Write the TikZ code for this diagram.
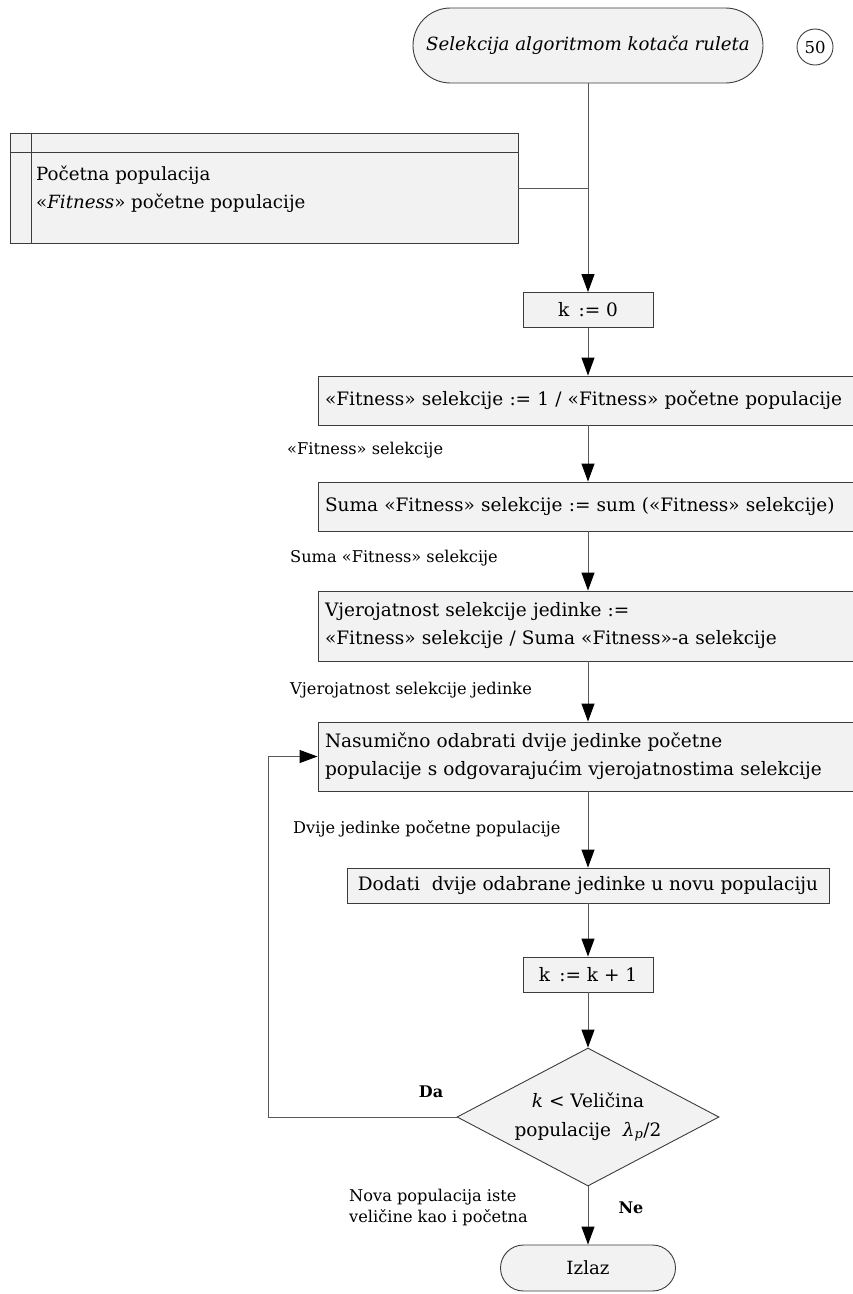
\documentclass[tikz,border=0pt]{standalone}
\usepackage{fontspec}
\setmainfont{DejaVu Serif}
\usetikzlibrary{shapes.geometric,shapes.misc,arrows.meta}
\definecolor{boxfill}{HTML}{F2F2F2}
\definecolor{linec}{HTML}{3C3C3C}
\definecolor{connc}{HTML}{595959}
\begin{document}
\begin{tikzpicture}[x=1pt,y=-1pt,
  base/.style={draw=linec, fill=boxfill, line width=0.9pt, inner sep=0pt},
  proc/.style={base, rectangle, font=\fontsize{18.5}{28}\selectfont},
  wide/.style={proc, minimum width=540pt, text width=526pt, inner xsep=7pt, align=left},
  small/.style={proc, minimum width=130pt, minimum height=35pt},
  term/.style={base, rounded rectangle, font=\fontsize{18.2}{28}\selectfont},
  lbl/.style={anchor=west, inner sep=0pt, font=\fontsize{16.2}{21.5}\selectfont, align=left},
  yesno/.style={inner sep=0pt, font=\fontsize{16}{21}\selectfont\bfseries},
  conn/.style={draw=connc, line width=1pt},
  flow/.style={conn, -{Triangle[width=13pt,length=18pt,color=black]}}
]
\useasboundingbox (0,0) rectangle (853,1294);

% start terminal and connector number
\node[term, minimum width=350pt, minimum height=75pt] (start) at (588,45.5)
  {\itshape Selekcija algoritmom kotača ruleta};
\node[draw=linec, line width=0.9pt, circle, minimum size=36pt, inner sep=0pt,
  font=\fontsize{16.5}{18}\selectfont] (num) at (815,47) {50};

% data store
\node[base, rectangle, minimum width=508pt, minimum height=110pt] (store) at (264,188) {};
\draw[base] ([xshift=22pt]store.north west) -- ([xshift=22pt]store.south west);
\draw[base] ([yshift=-20pt]store.north west) -- ([yshift=-20pt]store.north east);
\node[anchor=west, inner sep=0pt, align=left, font=\fontsize{18.2}{28}\selectfont] (storetxt) at (36,189)
  {Početna populacija\\«\textit{Fitness}» početne populacije};
\coordinate (join) at (588,188);
\draw[conn] (store.east) -- (join);

% process boxes
\node[small] (k0) at (588,310) {k\enspace:= 0};
\node[wide, minimum height=49pt] (b2) at (588,400.5)
  {«Fitness» selekcije := 1 / «Fitness» početne populacije};
\node[wide, minimum height=49pt] (b3) at (588,506.5)
  {Suma «Fitness» selekcije := sum («Fitness» selekcije)};
\node[wide, minimum height=70pt] (b4) at (588,626)
  {Vjerojatnost selekcije jedinke :=\\«Fitness» selekcije / Suma «Fitness»-a selekcije};
\node[wide, minimum height=69pt] (b5) at (588,756.5)
  {Nasumično odabrati dvije jedinke početne\\populacije s odgovarajućim vjerojatnostima selekcije};
\node[proc, minimum width=482pt, minimum height=35pt] (b6) at (588,885.5)
  {Dodati\ \ dvije odabrane jedinke u novu populaciju};
\node[small] (k1) at (588,974.5) {k\enspace:= k + 1};

% decision
\node[base, diamond, aspect=1.9, minimum width=262pt, minimum height=138pt,
  align=center, font=\fontsize{18.5}{29}\selectfont] (dec) at (588,1117)
  {\textit{k} < Veličina\\populacije\ \ \textit{λ\textsubscript{p}}/2};

% end terminal
\node[term, minimum width=175pt, minimum height=46pt] (out) at (588,1268) {Izlaz};

% labels
\node[lbl] (l1) at (287,450) {«Fitness» selekcije};
\node[lbl] (l2) at (290,558) {Suma «Fitness» selekcije};
\node[lbl] (l3) at (290,690) {Vjerojatnost selekcije jedinke};
\node[lbl] (l4) at (293,829) {Dvije jedinke početne populacije};
\node[lbl] (l5) at (349,1207.5) {Nova populacija iste\\veličine kao i početna};
\node[yesno] (da) at (431,1092) {Da};
\node[yesno] (ne) at (631,1208) {Ne};

% connectors
\draw[flow] (start.south) -- (k0.north);
\draw[flow] (k0.south) -- (b2.north);
\draw[flow] (b2.south) -- (b3.north);
\draw[flow] (b3.south) -- (b4.north);
\draw[flow] (b4.south) -- (b5.north);
\draw[flow] (b5.south) -- (b6.north);
\draw[flow] (b6.south) -- (k1.north);
\draw[flow] (k1.south) -- (dec.north);
\draw[flow] (dec.south) -- (out.north);
\coordinate (loopc) at (268,1117);
\draw[flow] (dec.west) -- (loopc) |- (b5.west);
\end{tikzpicture}
\end{document}
